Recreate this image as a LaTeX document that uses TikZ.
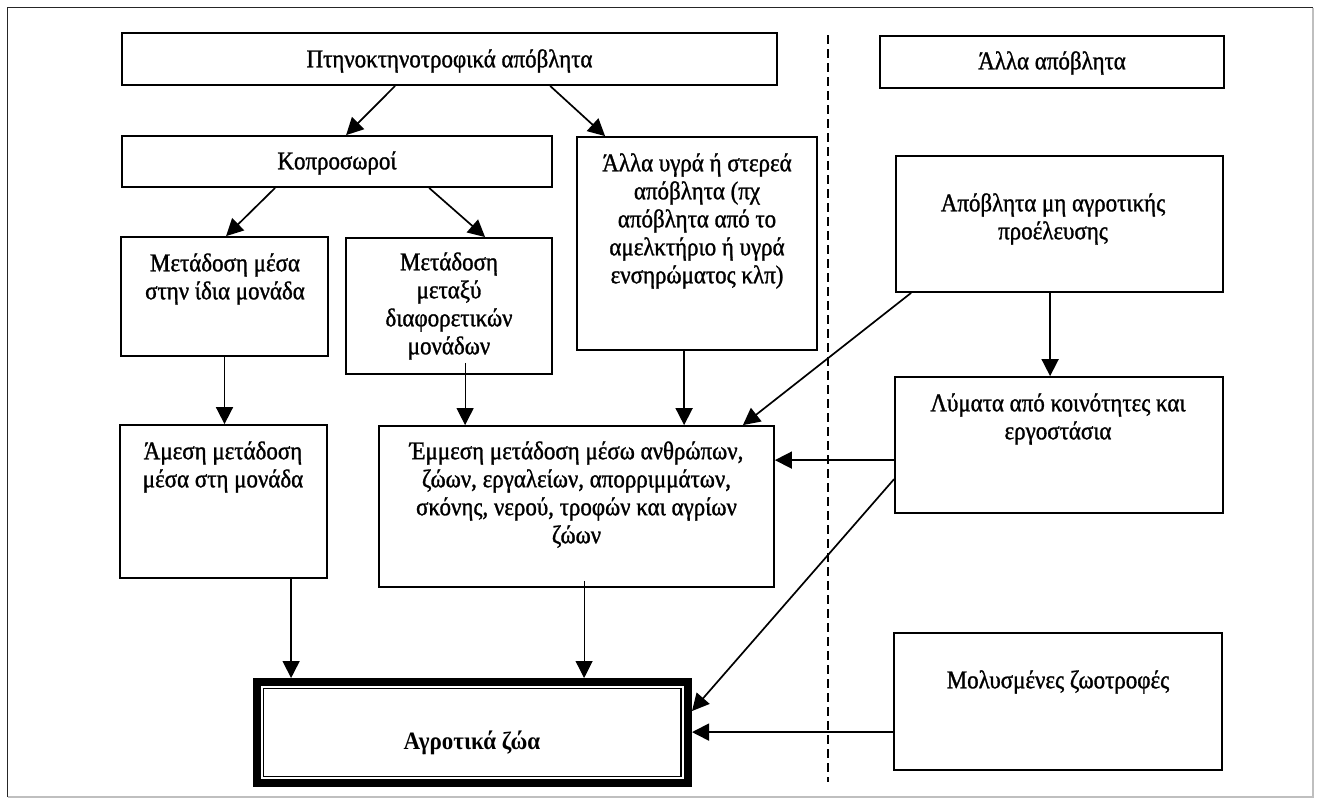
\documentclass[tikz,border=0pt]{standalone}
\usepackage{fontspec}
\setmainfont{Liberation Serif}[FakeStretch=0.9, FakeBold=1.2]
\newfontfamily\agrofont{Liberation Serif Bold}[FakeStretch=0.92]
\usetikzlibrary{arrows.meta,calc}
\newcommand\mkbox[5]{\node[box, minimum width={#4-#2}, minimum height={#5-#3}] (#1) at ({(#2+#4)/2},{(#3+#5)/2}) {};}
\begin{document}
\begin{tikzpicture}[x=1pt,y=-1pt,
  box/.style={draw, line width=1.8pt, inner sep=0pt, fill=white},
  txt/.style={align=center, inner sep=0pt, font=\fontsize{25.5}{28}\selectfont},
  arr/.style={line width=1.7pt, -{Triangle[length=17pt,width=17pt]}},
  tharr/.style={line width=1.1pt, -{Triangle[length=17pt,width=17pt]}}]
\useasboundingbox (0,0) rectangle (1321,804);
\fill[white] (0,0) rectangle (1321,804);
% outer frame
\draw[line width=1.5pt, black!85] (7.5,797) -- (7.5,7.5) -- (1313,7.5);
\draw[line width=1.2pt, black!25] (1313,7.5) -- (1313,797) -- (7.5,797);
% dashed separator
\coordinate (dtop) at (828,35);
\coordinate (dbot) at (828,782);
\draw[line width=1.5pt, dash pattern=on 9pt off 5pt] (dtop) -- (dbot);
% boxes
\mkbox{top}{122}{33}{777}{85}
\mkbox{kop}{122}{136}{552}{187}
\mkbox{mesa}{121}{237}{328}{356}
\mkbox{metaxy}{346}{238}{552}{374}
\mkbox{alla}{577}{137}{817}{350}
\mkbox{allaap}{880}{36}{1224}{88}
\mkbox{apob}{896}{156}{1223}{292}
\mkbox{lym}{895}{377}{1223}{513}
\mkbox{amesi}{120}{425}{327}{578}
\mkbox{emm}{379}{426}{774}{587}
\mkbox{mol}{894}{633}{1222}{770}
\node[draw, line width=8pt, inner sep=0pt, minimum width=431pt, minimum height=101pt] (agro) at (472.5,732.5) {};
\draw[line width=1.5pt] ([xshift=10.5pt,yshift=-10.5pt]agro.north west) rectangle ([xshift=-11pt,yshift=10.5pt]agro.south east);
% texts
\node[txt] (ttop) at (449.5,61) {Πτηνοκτηνοτροφικά απόβλητα};
\node[txt] (tkop) at (337,163) {Κοπροσωροί};
\node[txt] (tmesa) at (225,279) {Μετάδοση μέσα\\στην ίδια μονάδα};
\node[txt] (tmetaxy) at (449,306) {Μετάδοση\\μεταξύ\\διαφορετικών\\μονάδων};
\node[txt] (talla) at (697,221) {Άλλα υγρά ή στερεά\\απόβλητα (πχ\\απόβλητα από το\\αμελκτήριο ή υγρά\\ενσηρώματος κλπ)};
\node[txt] (tallaap) at (1052,63) {Άλλα απόβλητα};
\node[txt] (tapob) at (1053,219) {Απόβλητα μη αγροτικής\\προέλευσης};
\node[txt] (tlym) at (1058,419) {Λύματα από κοινότητες και\\εργοστάσια};
\node[txt] (tamesi) at (223,467) {Άμεση μετάδοση\\μέσα στη μονάδα};
\node[txt] (temm) at (576.5,494.5) {Έμμεση μετάδοση μέσω ανθρώπων,\\ζώων, εργαλείων, απορριμμάτων,\\σκόνης, νερού, τροφών και αγρίων\\ζώων};
\node[txt, font=\fontsize{25}{28}\agrofont] (tagro) at (472,743) {Αγροτικά ζώα};
\node[txt] (tmol) at (1058,682) {Μολυσμένες ζωοτροφές};
% connectors
\draw[arr] ([xshift=274pt]top.south west) -- ([xshift=225pt]kop.north west);
\draw[arr] ([xshift=429pt]top.south west) -- ([xshift=29pt]alla.north west);
\draw[arr] ([xshift=154pt]kop.south west) -- ([xshift=106pt]mesa.north west);
\draw[arr] ([xshift=308pt]kop.south west) -- ([xshift=140pt]metaxy.north west);
\draw[arr] (mesa.south) -- (mesa.south |- amesi.north);
\draw[tharr] ([xshift=120pt,yshift=12pt]metaxy.south west) -- ([xshift=120pt]metaxy.south west |- emm.north);
\draw[arr] ([xshift=108pt]alla.south west) -- ([xshift=108pt]alla.south west |- emm.north);
\draw[arr] ([xshift=16pt]apob.south west) -- ([xshift=-32pt]emm.north east);
\draw[arr] ([xshift=155pt]apob.south west) -- ([xshift=155pt]apob.south west |- lym.north);
\draw[arr] ([yshift=-84pt]lym.north west) -- ([yshift=-84pt]lym.north west -| emm.east);
\draw[arr] ([yshift=-103pt]lym.north west) -- ([yshift=-33pt]agro.north east);
\draw[arr] ([yshift=-100pt]mol.north west) -- ([yshift=-100pt]mol.north west -| agro.east);
\draw[arr] ([xshift=172pt]amesi.south west) -- ([xshift=172pt]amesi.south west |- agro.north);
\draw[tharr] ([xshift=206pt,yshift=7pt]emm.south west) -- ([xshift=206pt]emm.south west |- agro.north);
\end{tikzpicture}
\end{document}
